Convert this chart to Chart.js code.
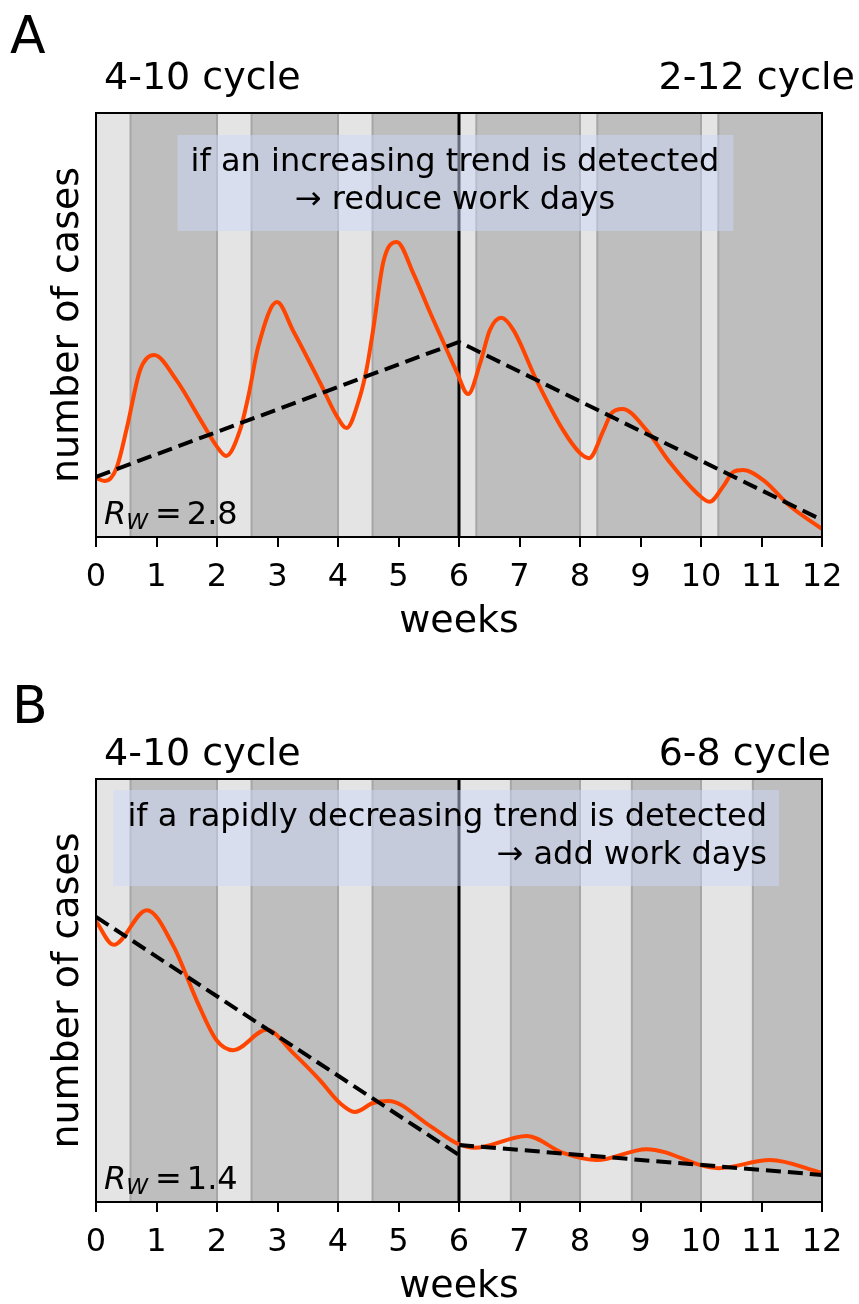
<!DOCTYPE html>
<html>
<head>
<meta charset="utf-8">
<title>Work-day cycles</title>
<script src="https://cdn.jsdelivr.net/npm/chart.js@4.4.1/dist/chart.umd.min.js"></script>
<style>
    html, body { margin: 0; padding: 0; background: #fff; }
    #wrap { position: relative; width: 859px; height: 1304px; }
    canvas { position: absolute; left: 0; }
</style>
</head>
<body>
<div id="wrap">
    <canvas id="chartA" width="859" height="666" style="top:0px"></canvas>
    <canvas id="chartB" width="859" height="638" style="top:666px"></canvas>
</div>
<script>
// Work-day cycle scenarios (panels A and B)

// Panel A: 4-10 cycle, switched to 2-12 cycle at week 6
const weeksA = [0, 0.15, 0.34, 0.51, 0.73, 0.96, 1.33, 1.72, 1.99, 2.15, 2.38, 2.52, 2.68, 2.99,
    3.26, 3.70, 3.98, 4.14, 4.36, 4.47, 4.58, 4.75, 4.97, 5.25, 5.52, 5.74, 5.96, 6.15,
    6.35, 6.51, 6.70, 6.90, 7.28, 7.72, 8.00, 8.15, 8.39, 8.52, 8.70, 9.10, 9.49, 9.93, 10.14,
    10.37, 10.53, 10.70, 11.03, 11.47, 12];
const casesA = [13.9, 13.2, 16.3, 25.7, 39.4, 42.9, 37.0, 27.8, 21.5, 19.1, 25.2, 33.3, 44.8, 55.4,
    48.6, 36.5, 28.5, 25.7, 33.0, 39.4, 48.8, 64.9, 69.6, 62.0, 53.0, 46.0, 39.0, 33.7,
    41.0, 48.8, 51.7, 48.8, 37.0, 25.2, 19.8, 18.6, 25.2, 29.2, 30.2, 25.2, 17.5, 10.4, 8.3,
    12.0, 15.3, 15.8, 13.4, 7.3, 1.9];
const trendWeeksA = [0, 6, 12];
const trendA = [14.2, 46.0, 4.0];
const workDaysA = [[0, 0.571], [2, 2.571], [4, 4.571], [6, 6.286], [8, 8.286], [10, 10.286]];
const cyclesA = ['4-10 cycle', '2-12 cycle'];
const noteA = ['if an increasing trend is detected', '\u2192 reduce work days'];
const rwA = '2.8';

// Panel B: 4-10 cycle, switched to 6-8 cycle at week 6
const weeksB = [0, 0.29, 0.84, 1.28, 1.66, 1.99, 2.27, 2.82, 3.26, 3.70, 4.03, 4.28, 4.58, 4.83,
    5.52, 5.96, 6.26, 7.12, 7.72, 8.28, 9.10, 10.29, 11.14, 12];
const casesB = [66.4, 60.8, 69.0, 60.5, 47.8, 38.3, 35.9, 40.7, 35.2, 28.8, 23.4, 21.3, 23.4, 23.9,
    18.0, 13.9, 12.8, 15.6, 11.6, 9.9, 12.5, 8.0, 9.9, 6.9];
const trendWeeksB1 = [0, 6];
const trendB1 = [67.4, 11.1];
const trendWeeksB2 = [6, 12];
const trendB2 = [13.5, 6.4];
const workDaysB = [[0, 0.571], [2, 2.571], [4, 4.571], [6, 6.857], [8, 8.857], [10, 10.857]];
const cyclesB = ['4-10 cycle', '6-8 cycle'];
const noteB = ['if a rapidly decreasing trend is detected', '\u2192 add work days'];
const rwB = '1.4';

const switchWeek = 6;
const weekRange = [0, 12];

const FONT = '"DejaVu Sans", "Liberation Sans", sans-serif';
Chart.defaults.font.family = FONT;

const toPoints = (xs, ys) => xs.map((x, i) => ({ x: x, y: ys[i] }));

function vline(ctx, px, top, bottom) {
    ctx.beginPath();
    ctx.moveTo(px, top);
    ctx.lineTo(px, bottom);
    ctx.stroke();
}

function panelDecor(spec) {
    return {
        id: 'decor',
        beforeDatasetsDraw(chart) {
            const { ctx, chartArea: a, scales: { x } } = chart;
            ctx.save();
            // lockdown (dark) background, work days light
            ctx.fillStyle = '#bebebe';
            ctx.fillRect(a.left, a.top, a.width, a.height);
            ctx.fillStyle = '#e4e4e4';
            spec.work.forEach(([s, e]) => {
                const x0 = x.getPixelForValue(s);
                const x1 = x.getPixelForValue(e);
                ctx.fillRect(x0, a.top, x1 - x0, a.height);
            });
            ctx.strokeStyle = '#a6a6a6';
            ctx.lineWidth = 2;
            spec.work.forEach(([s, e]) => {
                [s, e].forEach(v => {
                    if (v <= weekRange[0] || v >= weekRange[1]) return;
                    vline(ctx, x.getPixelForValue(v), a.top, a.bottom);
                });
            });
            // cycle switch
            ctx.strokeStyle = '#000';
            ctx.lineWidth = 3;
            vline(ctx, x.getPixelForValue(switchWeek), a.top, a.bottom);
            ctx.restore();
        },
        afterDatasetsDraw(chart) {
            const { ctx, chartArea: a } = chart;
            ctx.save();

            // note box
            const n = spec.note;
            ctx.font = '32px ' + FONT;
            const widths = n.lines.map(t => ctx.measureText(t).width);
            const maxW = Math.max(...widths);
            let left, right;
            if (n.align === 'center') {
                left = n.x - maxW / 2 - 13;
                right = n.x + maxW / 2 + 14;
            } else {
                left = n.x - maxW - 14;
                right = n.x + 12;
            }
            const boxTop = n.y - 36;
            const boxBottom = n.y + n.lh * (n.lines.length - 1) + 22;
            ctx.fillStyle = 'rgba(206, 216, 250, 0.5)';
            ctx.fillRect(left, boxTop, right - left, boxBottom - boxTop);
            ctx.fillStyle = '#000';
            ctx.textBaseline = 'alphabetic';
            ctx.textAlign = n.align;
            n.lines.forEach((t, i) => {
                ctx.fillText(t, n.x, n.y + i * n.lh);
            });

            // R_W label
            const rx = a.left + 8;
            const ry = a.bottom - 13;
            ctx.textAlign = 'left';
            ctx.font = 'italic 32px ' + FONT;
            ctx.fillText('R', rx, ry);
            const wR = ctx.measureText('R').width;
            ctx.font = 'italic 22px ' + FONT;
            ctx.fillText('W', rx + wR, ry + 5);
            const wW = ctx.measureText('W').width;
            ctx.font = '32px ' + FONT;
            const eqX = rx + wR + wW + 7;
            ctx.fillText('=', eqX, ry);
            ctx.fillText(spec.rw, eqX + ctx.measureText('=').width + 5, ry);

            // frame
            ctx.strokeStyle = '#000';
            ctx.lineWidth = 2;
            ctx.strokeRect(a.left, a.top, a.width, a.height);

            // cycle titles
            ctx.font = '38px ' + FONT;
            ctx.textAlign = 'left';
            ctx.fillText(spec.cycles[0], a.left + 8, spec.titleY);
            ctx.textAlign = 'right';
            ctx.fillText(spec.cycles[1], spec.titleRight, spec.titleY);

            // axis titles
            ctx.textAlign = 'center';
            ctx.fillText('weeks', (a.left + a.right) / 2, a.bottom + 95);
            ctx.save();
            ctx.translate(77.5, (a.top + a.bottom) / 2);
            ctx.rotate(-Math.PI / 2);
            ctx.fillText('number of cases', 0, 0);
            ctx.restore();

            // panel letter
            ctx.font = '52px ' + FONT;
            ctx.textAlign = 'left';
            ctx.fillText(spec.letter, spec.letterX, spec.letterY);

            ctx.restore();
        }
    };
}

function makePanel(canvasId, spec) {
    const ctx = document.getElementById(canvasId).getContext('2d');
    const trendSets = spec.trends.map(([xs, ys]) => ({
        data: toPoints(xs, ys),
        borderColor: '#000',
        borderWidth: 4,
        borderDash: [15, 7],
        pointRadius: 0,
        tension: 0,
        order: 1
    }));
    return new Chart(ctx, {
        type: 'line',
        data: {
            datasets: [
                {
                    data: toPoints(spec.weeks, spec.cases),
                    borderColor: '#ff4500',
                    borderWidth: 4,
                    pointRadius: 0,
                    cubicInterpolationMode: 'monotone',
                    order: 2
                },
                ...trendSets
            ]
        },
        options: {
            responsive: false,
            animation: false,
            devicePixelRatio: 1,
            layout: { padding: spec.pad },
            plugins: {
                legend: { display: false },
                tooltip: { enabled: false }
            },
            scales: {
                x: {
                    type: 'linear',
                    min: weekRange[0],
                    max: weekRange[1],
                    ticks: {
                        stepSize: 1,
                        autoSkip: false,
                        maxRotation: 0,
                        color: '#000',
                        padding: 11,
                        font: { family: FONT, size: 32 }
                    },
                    grid: {
                        drawOnChartArea: false,
                        drawTicks: true,
                        tickLength: 10,
                        color: '#000',
                        lineWidth: 2
                    },
                    border: { display: false },
                    afterFit: (scale) => { scale.height = 58; }
                },
                y: { display: false, min: 0, max: 100 }
            }
        },
        plugins: [panelDecor(spec)]
    });
}

makePanel('chartA', {
    weeks: weeksA, cases: casesA,
    trends: [[trendWeeksA, trendA]],
    work: workDaysA, cycles: cyclesA, rw: rwA,
    note: { lines: noteA, align: 'center', x: 455, y: 171, lh: 38 },
    pad: { left: 96, right: 37, top: 113, bottom: 71 },
    titleY: 89, titleRight: 855,
    letter: 'A', letterX: 10, letterY: 53
});

makePanel('chartB', {
    weeks: weeksB, cases: casesB,
    trends: [[trendWeeksB1, trendB1], [trendWeeksB2, trendB2]],
    work: workDaysB, cycles: cyclesB, rw: rwB,
    note: { lines: noteB, align: 'right', x: 767, y: 160, lh: 38 },
    pad: { left: 96, right: 37, top: 113, bottom: 44 },
    titleY: 99, titleRight: 831,
    letter: 'B', letterX: 12, letterY: 57
});
</script>
</body>
</html>
